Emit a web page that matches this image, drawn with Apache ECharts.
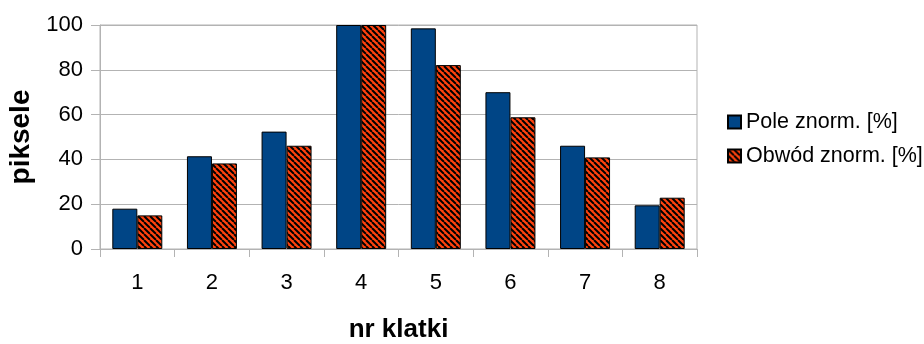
<!DOCTYPE html>
<html><head><meta charset="utf-8">
<script src="https://cdn.jsdelivr.net/npm/echarts@6/dist/echarts.min.js"></script>
<style>html,body{margin:0;padding:0;background:#fff}#c{width:924px;height:344px}</style>
</head><body><div id="c"></div>
<script>
var categories = ['1','2','3','4','5','6','7','8'];
var poleValues = [18.0, 41.4, 52.4, 100, 98.5, 70.0, 46.1, 19.5];
var obwodValues = [15.0, 38.2, 46.1, 100, 82.1, 58.8, 40.9, 22.9];
var seriesNames = ['Pole znorm. [%]', 'Obwód znorm. [%]'];

function stripes() {
  var c = document.createElement('canvas');
  c.width = 6; c.height = 6;
  var g = c.getContext('2d');
  g.fillStyle = '#ff420e';
  g.fillRect(0, 0, 6, 6);
  g.strokeStyle = '#000';
  g.lineWidth = 2;
  for (var k = -12; k <= 12; k += 6) {
    g.beginPath();
    g.moveTo(k, 0);
    g.lineTo(k + 6, 6);
    g.stroke();
  }
  return c;
}
var font = 'Liberation Sans, Arial, sans-serif';
var chart = echarts.init(document.getElementById('c'));
chart.setOption({
  animation: false,
  textStyle: {fontFamily: font},
  grid: {left: 100, right: 227, top: 25, bottom: 95, show: true, borderColor: '#b3b3b3', borderWidth: 1,
         containLabel: false, outerBoundsMode: 'none'},
  legend: {
    orient: 'vertical', left: 722, top: 105, itemWidth: 13, itemHeight: 13, itemGap: 10,
    icon: 'rect',
    textStyle: {fontSize: 21.5, lineHeight: 24, color: '#000', fontFamily: font},
    data: seriesNames
  },
  xAxis: {
    type: 'category', data: categories,
    name: 'nr klatki', nameLocation: 'middle', nameGap: 68,
    nameTextStyle: {fontSize: 26, fontWeight: 'bold', color: '#000'},
    axisLine: {lineStyle: {color: '#b3b3b3'}},
    axisTick: {show: true, length: 8, lineStyle: {color: '#b3b3b3'}},
    axisLabel: {fontSize: 22, color: '#000', margin: 23}
  },
  yAxis: {
    type: 'value', min: 0, max: 100, interval: 20,
    name: 'piksele', nameLocation: 'middle', nameGap: 60,
    nameTextStyle: {fontSize: 28, fontWeight: 'bold', color: '#000'},
    axisLine: {show: true, lineStyle: {color: '#b3b3b3'}},
    axisTick: {show: true, length: 9, lineStyle: {color: '#b3b3b3'}},
    splitLine: {lineStyle: {color: '#b3b3b3'}},
    axisLabel: {fontSize: 22, color: '#000', margin: 17}
  },
  series: [
    {name: seriesNames[0], type: 'bar', data: poleValues, barGap: '0%', barCategoryGap: '33%',
     itemStyle: {color: '#004586', borderColor: '#000', borderWidth: 1}},
    {name: seriesNames[1], type: 'bar', data: obwodValues,
     itemStyle: {color: {image: stripes(), repeat: 'repeat'}, borderColor: '#000', borderWidth: 1}}
  ]
});
</script></body></html>
